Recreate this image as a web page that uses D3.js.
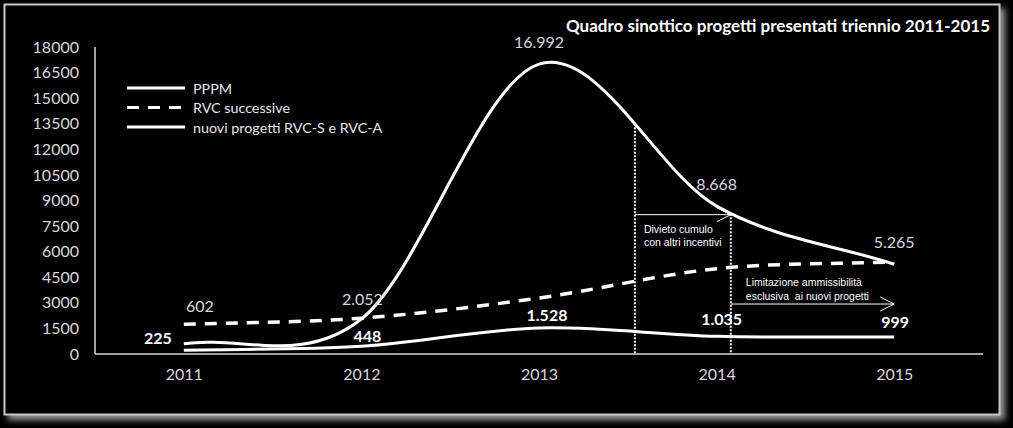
<!DOCTYPE html>
<html><head><meta charset="utf-8">
<script src="https://cdn.jsdelivr.net/npm/d3@7"></script>
<style>
html,body{margin:0;padding:0;background:#000;}
svg{display:block;}
.note{white-space:pre;}
</style></head><body>
<svg id="chart" width="1013" height="428"></svg>
<script>
// ---- data ----
const years = [2011, 2012, 2013, 2014, 2015];
const pppm = [602, 2052, 16992, 8668, 5265];
const rvcSuccessive = [1740, 2100, 3280, 5000, 5400];
const nuoviProgetti = [225, 448, 1528, 1035, 999];
const yTicks = [0, 1500, 3000, 4500, 6000, 7500, 9000, 10500, 12000, 13500, 15000, 16500, 18000];
const seriesNames = ["PPPM", "RVC successive", "nuovi progetti RVC-S e RVC-A"];
const chartTitle = "Quadro sinottico progetti presentati triennio 2011-2015";
const note1 = ["Divieto cumulo", "con altri incentivi"];
const note2 = ["Limitazione ammissibilità", "esclusiva  ai nuovi progetti"];
const note1Start = 2013.54, note2Start = 2014.08, note2End = 2015, note2Value = 2930;

// ---- layout ----
const W = 1013, H = 428;
const m = {left: 95, right: 983, top: 47, bottom: 354};
const svg = d3.select("#chart");
const FONT = "Lato, 'Open Sans', sans-serif";
const grey = "#d9d9d9";

const defs = svg.append("defs");
const f = defs.append("filter").attr("id", "glow").attr("x", "-5%").attr("y", "-5%").attr("width", "110%").attr("height", "110%");
f.append("feGaussianBlur").attr("stdDeviation", 3);

svg.append("rect").attr("x", 0).attr("y", 0).attr("width", W).attr("height", H).attr("fill", "#000");
svg.append("rect").attr("x", 8).attr("y", 8).attr("width", 997).attr("height", 412)
  .attr("fill", "#9a9a9a").attr("filter", "url(#glow)");
svg.append("rect").attr("x", 4.5).attr("y", 4.5).attr("width", 995).attr("height", 410)
  .attr("fill", "#000").attr("stroke", "#c8c8c8").attr("stroke-width", 2);

const x = d3.scaleLinear().domain([2010.5, 2015.5]).range([m.left, m.right]);
const y = d3.scaleLinear().domain([0, 18000]).range([m.bottom, m.top]);

// axes
const yAxis = svg.append("g").attr("transform", `translate(${m.left},0)`)
  .call(d3.axisLeft(y).tickValues(yTicks).tickSize(0).tickPadding(16).tickFormat(d3.format("d")));
const xAxis = svg.append("g").attr("transform", `translate(0,${m.bottom})`)
  .call(d3.axisBottom(x).tickValues(years).tickSize(0).tickPadding(15).tickFormat(d3.format("d")));
[yAxis, xAxis].forEach(a => {
  a.select(".domain").attr("stroke", grey).attr("stroke-width", 1.5);
  a.selectAll("text").attr("fill", grey).attr("font-family", FONT).attr("font-size", 16);
});
xAxis.select(".domain").attr("d", `M${m.left},0H${m.right}`);
yAxis.select(".domain").attr("d", `M0,${m.bottom}V${m.top}`);

// Excel-like smoothing: Catmull-Rom with reflected end points
function excelSmooth(context) {
  let pts = [];
  return {
    areaStart() {}, areaEnd() {},
    lineStart() { pts = []; },
    point(px, py) { pts.push([+px, +py]); },
    lineEnd() {
      const n = pts.length;
      if (!n) return;
      const P = i => {
        if (i < 0) return [2 * pts[0][0] - pts[1][0], 2 * pts[0][1] - pts[1][1]];
        if (i >= n) return [2 * pts[n - 1][0] - pts[n - 2][0], 2 * pts[n - 1][1] - pts[n - 2][1]];
        return pts[i];
      };
      context.moveTo(pts[0][0], pts[0][1]);
      for (let i = 0; i < n - 1; i++) {
        const p0 = P(i - 1), p1 = P(i), p2 = P(i + 1), p3 = P(i + 2);
        context.bezierCurveTo(
          p1[0] + (p2[0] - p0[0]) / 6, p1[1] + (p2[1] - p0[1]) / 6,
          p2[0] - (p3[0] - p1[0]) / 6, p2[1] - (p3[1] - p1[1]) / 6,
          p2[0], p2[1]);
      }
    }
  };
}

// lines
const line = d3.line().x((d, i) => x(years[i])).y(d => y(d)).curve(excelSmooth);
const pPath = svg.append("path").datum(pppm).attr("d", line).attr("fill", "none")
  .attr("stroke", "#fff").attr("stroke-width", 3);
svg.append("path").datum(rvcSuccessive).attr("d", line).attr("fill", "none")
  .attr("stroke", "#fff").attr("stroke-width", 3.5).attr("stroke-dasharray", "12,9");
svg.append("path").datum(nuoviProgetti).attr("d", line).attr("fill", "none")
  .attr("stroke", "#fff").attr("stroke-width", 3);

// point on curve
function yAt(pathNode, xt) {
  const L = pathNode.getTotalLength();
  let lo = 0, hi = L;
  for (let k = 0; k < 40; k++) {
    const mid = (lo + hi) / 2;
    if (pathNode.getPointAtLength(mid).x < xt) lo = mid; else hi = mid;
  }
  return pathNode.getPointAtLength(lo).y;
}

// data labels
const it = d3.formatLocale({decimal: ",", thousands: ".", grouping: [3], currency: ["€", ""]}).format(",d");
const pppmNudge = [[16, -38], [1, -21], [0, -23], [0, -23], [0, -23]];
const nuoviNudge = [[-26, -13], [6, -11], [8, -13], [5, -18], [1, -15]];
svg.append("g").selectAll("text").data(pppm).join("text")
  .attr("x", (d, i) => x(years[i]) + pppmNudge[i][0])
  .attr("y", (d, i) => y(d) + pppmNudge[i][1])
  .attr("text-anchor", "middle").attr("dominant-baseline", "central")
  .attr("fill", grey).attr("font-family", FONT).attr("font-size", 16).text(d => it(d));
svg.append("g").selectAll("text").data(nuoviProgetti).join("text")
  .attr("x", (d, i) => x(years[i]) + nuoviNudge[i][0])
  .attr("y", (d, i) => y(d) + nuoviNudge[i][1])
  .attr("text-anchor", "middle").attr("dominant-baseline", "central")
  .attr("fill", "#fff").attr("font-family", FONT).attr("font-weight", "bold").attr("font-size", 16).text(d => it(d));

// annotations
const pNode = pPath.node();
const xa = x(note1Start), xb = x(note2Start), xc = x(note2End);
const ya = yAt(pNode, xa), yb = yAt(pNode, xb);
const ann = svg.append("g").attr("stroke", "#fff").attr("fill", "none");
ann.append("line").attr("x1", xa).attr("x2", xa).attr("y1", ya).attr("y2", m.bottom)
  .attr("stroke-width", 2).attr("stroke-dasharray", "2,1.5");
ann.append("line").attr("x1", xb).attr("x2", xb).attr("y1", yb).attr("y2", m.bottom)
  .attr("stroke-width", 2).attr("stroke-dasharray", "2,1.5");
function arrow(x1, x2, yy) {
  ann.append("line").attr("x1", x1).attr("x2", x2).attr("y1", yy).attr("y2", yy).attr("stroke-width", 1);
  ann.append("path").attr("d", `M${x2 - 14},${yy - 7}L${x2},${yy}L${x2 - 14},${yy + 7}`).attr("stroke-width", 1);
}
arrow(xa, xb, yb + 1);
const yArr2 = y(note2Value);
arrow(xb, xc, yArr2);
const nt = svg.append("g").attr("fill", "#fff").attr("font-family", "'Liberation Sans', Arial, sans-serif")
  .attr("font-size", 10.5);
note1.forEach((t, i) => nt.append("text").attr("class", "note").attr("x", xa + 9).attr("y", yb + 15 + i * 13)
  .attr("dominant-baseline", "central").text(t));
note2.forEach((t, i) => nt.append("text").attr("class", "note").attr("x", xb + 15).attr("y", yArr2 - 22 + i * 14)
  .attr("dominant-baseline", "central").text(t));

// legend
const lg = svg.append("g");
const lStyles = [null, "12,9", null];
seriesNames.forEach((n, i) => {
  const yy = 88 + i * 19.5;
  lg.append("line").attr("x1", 127).attr("x2", 185).attr("y1", yy).attr("y2", yy)
    .attr("stroke", "#fff").attr("stroke-width", 3).attr("stroke-dasharray", lStyles[i]);
  lg.append("text").attr("x", 193).attr("y", yy).attr("dominant-baseline", "central")
    .attr("fill", "#e8e8e8").attr("font-family", FONT).attr("font-size", 14.3).text(n);
});

// title
svg.append("text").attr("x", 990).attr("y", 25).attr("text-anchor", "end").attr("dominant-baseline", "central")
  .attr("fill", "#fff").attr("font-family", FONT).attr("font-weight", "bold").attr("font-size", 17).text(chartTitle);
</script>
</body></html>
